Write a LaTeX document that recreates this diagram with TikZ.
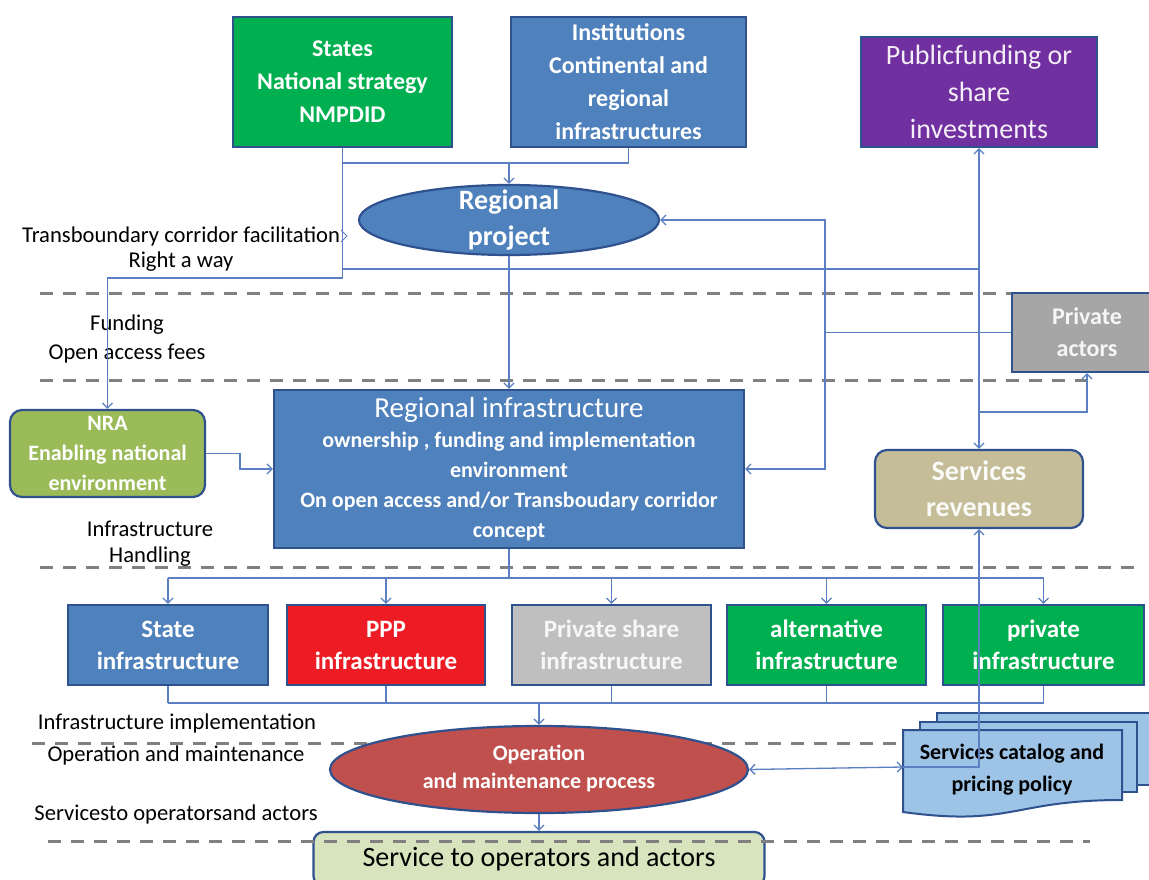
\documentclass[tikz,border=0pt]{standalone}
\usepackage{fontspec}
\setmainfont{Carlito}
\usetikzlibrary{arrows.meta,shapes.geometric,calc}
\definecolor{cgreen}{HTML}{00B050}
\definecolor{cblue}{HTML}{4F81BD}
\definecolor{cborder}{HTML}{2F528F}
\definecolor{cpurple}{HTML}{7030A0}
\definecolor{cred}{HTML}{ED1C24}
\definecolor{cgray}{HTML}{BFBFBF}
\definecolor{cgraytwo}{HTML}{A6A6A6}
\definecolor{colive}{HTML}{9BBB59}
\definecolor{ctan}{HTML}{C4BD97}
\definecolor{cbrick}{HTML}{C0504D}
\definecolor{csky}{HTML}{9DC3E6}
\definecolor{clime}{HTML}{D7E4BD}
\definecolor{cline}{HTML}{5B7FC0}
\definecolor{cdash}{HTML}{808080}
\newcommand\myfs[2]{\fontsize{#1}{#2}\selectfont}
\begin{document}
\begin{tikzpicture}[x=1pt,y=-1pt,
  box/.style={draw=cborder,line width=2.2pt,inner sep=2pt,align=center,text=white},
  rowbox/.style={box,minimum height=80pt,font=\myfs{25}{32}\bfseries},
  ell/.style={draw=cborder,line width=2.2pt,ellipse,inner sep=0pt},
  conn/.style={draw=cline,line width=1.3pt},
  arr/.style={conn,-{Straight Barb[length=5pt,width=10pt]}},
  darr/.style={conn,{Straight Barb[length=5pt,width=10pt]}-{Straight Barb[length=5pt,width=10pt]}},
  sep/.style={draw=cdash,line width=3pt,dash pattern=on 13pt off 10pt},
  lbl/.style={font=\myfs{22.6}{26},text=black,inner sep=0pt},
  doc/.style={fill=csky,draw=cborder,line width=2pt}]
\useasboundingbox (0,0) rectangle (1149,880);
\fill[white] (0,0) rectangle (1149,880);

% separators
\draw[sep] (40,293) -- (1020,293);
\draw[sep] (40,380) -- (1090,380);
\draw[sep] (40,567) -- (1140,567);
\draw[sep] (32,743) -- (950,743);

% top row
\node[box,fill=cgreen,minimum width=219pt,minimum height=130pt,font=\myfs{24}{33}\bfseries] (states) at (342.5,82) {States\\National strategy\\NMPDID};
\node[box,fill=cblue,minimum width=235pt,minimum height=130pt,font=\myfs{24}{33}\bfseries] (inst) at (628.5,82) {Institutions\\Continental and\\regional\\infrastructures};
\node[box,fill=cpurple,minimum width=236pt,minimum height=110pt,font=\myfs{28}{37},text=white!92!cpurple] (pub) at (979,92) {Publicfunding or\\share\\investments};

% regional project
\node[ell,fill=cblue,minimum width=300pt,minimum height=70pt] (rp) at (509,220) {};
\node[align=center,text=white,font=\myfs{28}{36}\bfseries,inner sep=0pt] (rpt) at (509,220) {Regional\\project};

% private actors
\node[box,fill=cgraytwo,minimum width=150pt,minimum height=79pt,font=\myfs{24}{32}\bfseries,text=white!90!cgraytwo] (pa) at (1087,332.5) {Private\\actors};

% NRA
\node[box,fill=colive,rounded corners=12pt,minimum width=195pt,minimum height=87pt,font=\myfs{22}{30}\bfseries] (nra) at (107.5,453.5) {NRA\\Enabling national\\environment};

% regional infrastructure
\node[box,fill=cblue,minimum width=470pt,minimum height=158pt,font=\myfs{22}{30}\bfseries] (ri) at (509,469) {{\myfs{29}{30}\mdseries Regional infrastructure}\\ownership , funding and implementation\\environment\\On open access and/or Transboudary corridor\\concept};

% services revenues
\node[box,fill=ctan,rounded corners=12pt,minimum width=208pt,minimum height=78pt,font=\myfs{28}{36}\bfseries,text=white!92!ctan] (rev) at (979,489) {Services\\revenues};

% infrastructure row
\node[rowbox,fill=cblue,minimum width=200pt] (st) at (168,645) {State\\infrastructure};
\node[rowbox,fill=cred,minimum width=198pt] (ppp) at (386,645) {PPP\\infrastructure};
\node[rowbox,fill=cgray,minimum width=199pt,text=white!88!cgray] (ps) at (611.5,645) {Private share\\infrastructure};
\node[rowbox,fill=cgreen,minimum width=199pt] (alt) at (826.5,645) {alternative\\infrastructure};
\node[rowbox,fill=cgreen,minimum width=201pt] (pv) at (1043.5,645) {private\\infrastructure};

% operation
\node[ell,fill=cbrick,minimum width=418pt,minimum height=87pt] (op) at (539,769.5) {};
\node[align=center,text=white,font=\myfs{22}{28}\bfseries,inner sep=0pt] (opt) at (539,768) {Operation\\and maintenance process};

% services catalog (multi-document)
\draw[doc] (937,713) rectangle (1153,785);
\draw[doc] (920,722) rectangle (1137,792);
\draw[doc] (903,730) -- (1122,730) -- (1122,800) .. controls (1012,800) and (1012,827) .. (903,812) -- cycle;
\node[align=center,text=black,font=\myfs{22}{32}\bfseries,inner sep=0pt] (cat) at (1012,770) {Services catalog and\\pricing policy};
\coordinate (catw) at (903,767);
\coordinate (catc) at (979,767);

% service box
\node[box,fill=clime,rounded corners=10pt,minimum width=451pt,minimum height=54pt,font=\myfs{28}{30},text=black] (svc) at (539,859) {Service to operators and actors};
\draw[sep] (48,841) -- (1090,841);

% left labels
\node[lbl,anchor=west] (l1) at (22,236) {Transboundary corridor facilitation};
\node[lbl] (l2) at (181,262) {Right a way};
\node[lbl] (l3) at (127,325) {Funding};
\node[lbl] (l4) at (127,354) {Open access fees};
\node[lbl] (l5) at (150,529) {Infrastructure};
\node[lbl] (l6) at (150,557) {Handling};
\node[lbl] (l7) at (177,723) {Infrastructure implementation};
\node[lbl] (l8) at (176,755) {Operation and maintenance};
\node[lbl] (l9) at (176,814) {Servicesto operatorsand actors};
\draw[cline,line width=1pt] (341,230) -- (347,236) -- (341,242);

% connectors
\coordinate (j1) at (342.5,163);
\coordinate (j2) at (342.5,278);
\coordinate (j3) at (342.5,269);
\coordinate (j4) at (979,412);
\coordinate (j5) at (825,332.5);
\coordinate (j6) at (509,578);
\coordinate (j7) at (539,703);

\draw[conn] (states.south) -- (j1) -| (inst.south);
\draw[arr] (j1 -| rp.north) -- (rp.north);
\draw[arr] (j1) -- (j2) -| (nra.north);
\draw[arr] (j3) -| (pub.south);
\draw[arr] (j3 -| rev.north) -- (rev.north);
\draw[arr] (j4) -| (pa.south);
\draw[arr] (rp.south) -- (ri.north);
\draw[conn] (pa.west) -- (j5);
\draw[arr] (j5) |- (rp.east);
\draw[arr] (j5) |- (ri.east);
\draw[arr] (nra.east) -- ++(34,0) |- (ri.west);

\draw[conn] (ri.south) -- (j6);
\draw[conn] (j6 -| st.north) -- (j6 -| pv.north);
\foreach \n in {st,ppp,ps,alt,pv} {
  \draw[arr] (j6 -| \n.north) -- (\n.north);
  \draw[conn] (\n.south) -- (j7 -| \n.south);
}
\draw[conn] (j7 -| st.south) -- (j7 -| pv.south);
\draw[arr] (j7) -- (op.north);
\draw[darr] (op.east) -- (catw);
\draw[arr] (catw) -- (catc) -- (rev.south);
\draw[arr] (op.south) -- (svc.north);
\end{tikzpicture}
\end{document}
